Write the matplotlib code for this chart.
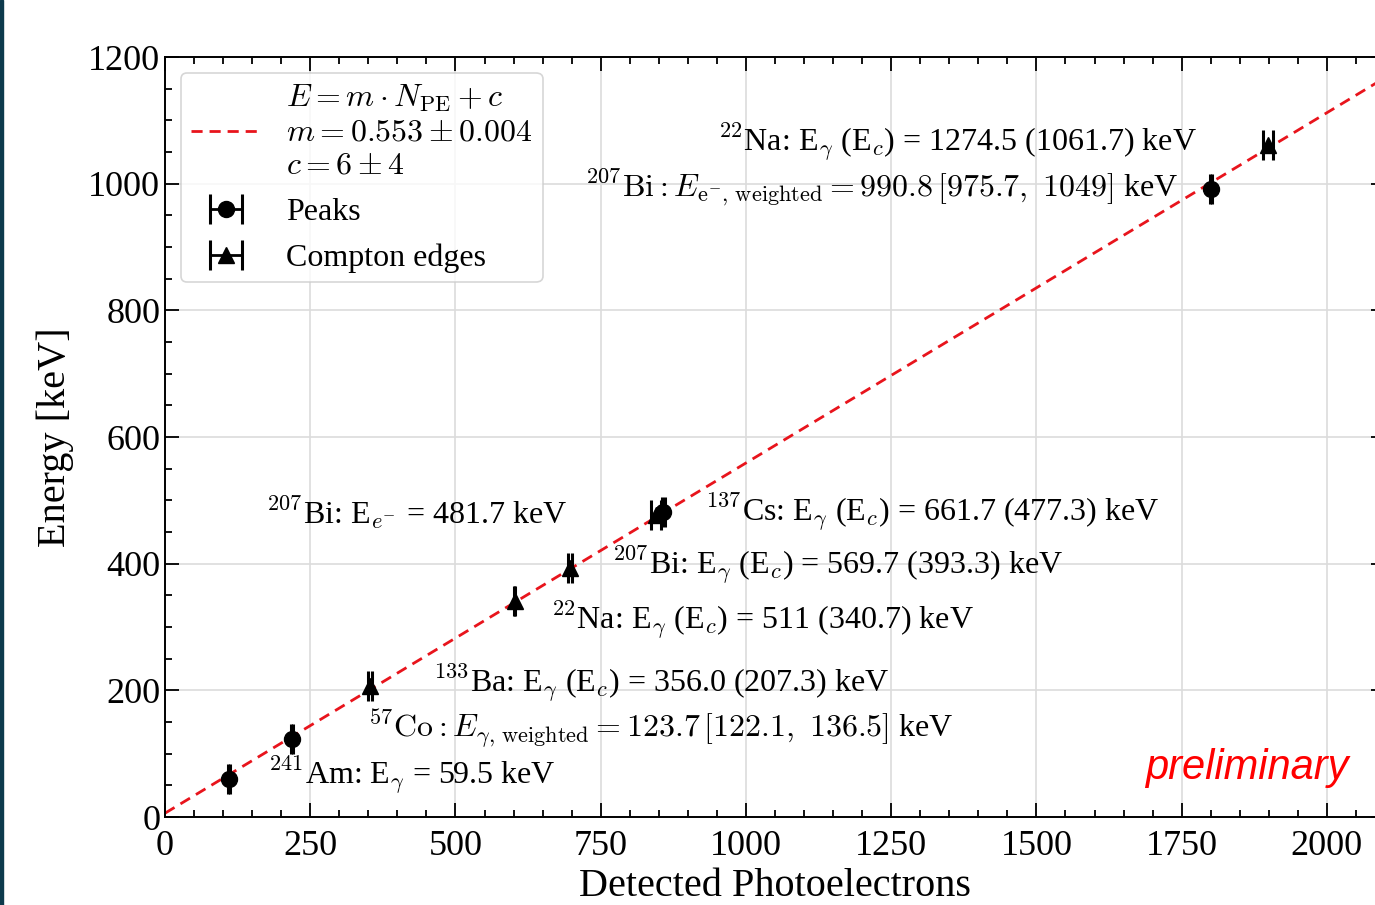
import matplotlib
matplotlib.use("Agg")
import matplotlib.pyplot as plt
import numpy as np
from matplotlib.ticker import MultipleLocator
from matplotlib.patches import Rectangle

plt.rcParams['font.family'] = 'serif'
plt.rcParams['font.serif'] = ['Liberation Serif', 'DejaVu Serif']
plt.rcParams['mathtext.fontset'] = 'cm'

# Peaks (circles)
peak_npe = [110, 219, 858, 1800]
peak_energy = [59.5, 123.7, 481.7, 990.8]
peak_npe_err = [1.5, 1.5, 2.0, 1.5]

# Compton edges (triangles)
edge_npe = [353, 602, 697, 845, 1898]
edge_energy = [207.3, 340.7, 393.3, 477.3, 1061.7]
edge_npe_err = [4, 1, 4, 8, 8.5]

# fit E = m * N + c
fit_m = 0.553
fit_c = 6
fit_x = [0, 2100]

labels = [
    (952, 1065, r'$^{22}$Na: E$_\gamma$ (E$_c$) = 1274.5 (1061.7) keV'),
    (723, 994, r'$^{207}\mathrm{Bi}: E_{\mathrm{e}^{-},\,\mathrm{weighted}} = 990.8\,[975.7,\ 1049]$ keV'),
    (174, 480, r'$^{207}$Bi: E$_{e^{-}}$ = 481.7 keV'),
    (929, 480, r'$^{137}$Cs: E$_\gamma$ (E$_c$) = 661.7 (477.3) keV'),
    (769, 396, r'$^{207}$Bi: E$_\gamma$ (E$_c$) = 569.7 (393.3) keV'),
    (664, 310, r'$^{22}$Na: E$_\gamma$ (E$_c$) = 511 (340.7) keV'),
    (461, 210, r'$^{133}$Ba: E$_\gamma$ (E$_c$) = 356.0 (207.3) keV'),
    (349, 139, r'$^{57}\mathrm{Co}: E_{\gamma,\,\mathrm{weighted}} = 123.7\,[122.1,\ 136.5]$ keV'),
    (177, 65, r'$^{241}$Am: E$_\gamma$ = 59.5 keV'),
]

fig = plt.figure(figsize=(13.75, 9.05), dpi=100)
ax = fig.add_axes([165 / 1375, 88 / 905, 1220 / 1375, 760 / 905])

fit_y = [fit_m * x + fit_c for x in fit_x]
fit_label = ('$E = m \\cdot N_{\\mathrm{PE}} + c$\n'
             '$m = 0.553 \\pm 0.004$\n'
             '$c = 6 \\pm 4$')
ax.plot(fit_x, fit_y, color='#e8141c', ls=(0, (4, 2.5)), lw=2.0,
        label=fit_label, zorder=2)

ax.errorbar(peak_npe, peak_energy, xerr=peak_npe_err, fmt='o', color='black',
            ms=11.5, capsize=11, capthick=2.2, elinewidth=2, label='Peaks', zorder=3)
ax.errorbar(edge_npe, edge_energy, xerr=edge_npe_err, fmt='^', color='black',
            ms=11.5, capsize=11, capthick=2.2, elinewidth=2, label='Compton edges',
            zorder=3)

for x, y, s in labels:
    ax.text(x, y, s, fontsize=23, va='center', ha='left')

ax.text(0.9697, 0.0645, 'preliminary', transform=ax.transAxes, color='red',
        fontsize=30, style='italic', family='Liberation Sans', ha='right',
        va='center')

ax.set_xlim(0, 2100)
ax.set_ylim(0, 1200)
ax.xaxis.set_major_locator(MultipleLocator(250))
ax.xaxis.set_minor_locator(MultipleLocator(50))
ax.yaxis.set_major_locator(MultipleLocator(200))
ax.yaxis.set_minor_locator(MultipleLocator(50))
ax.tick_params(which='both', direction='in', top=True, right=True,
               labelsize=26, width=1.3)
ax.tick_params(which='major', length=10)
ax.tick_params(which='minor', length=5)
ax.tick_params(axis='x', pad=9)
for sp in ax.spines.values():
    sp.set_linewidth(1.4)
ax.grid(True, which='major', color='#dcdcdc', lw=1.2, zorder=0)
ax.set_axisbelow(True)

ax.set_xlabel('Detected Photoelectrons', fontsize=29, labelpad=4)
ax.set_ylabel('Energy [keV]', fontsize=29, labelpad=10)

leg = ax.legend(loc='upper left', fontsize=23, frameon=True, fancybox=True,
                handlelength=2.2, borderpad=0.3, labelspacing=0.52)
leg.get_frame().set_edgecolor('#cccccc')
leg.get_frame().set_linewidth(1.2)

# dark strip on the left edge of the screenshot
fig.patches.append(Rectangle((0, 0), 3 / 1375, 1, transform=fig.transFigure,
                             color='#0d3a4c', zorder=10))

fig.savefig('out.png', dpi=100)
